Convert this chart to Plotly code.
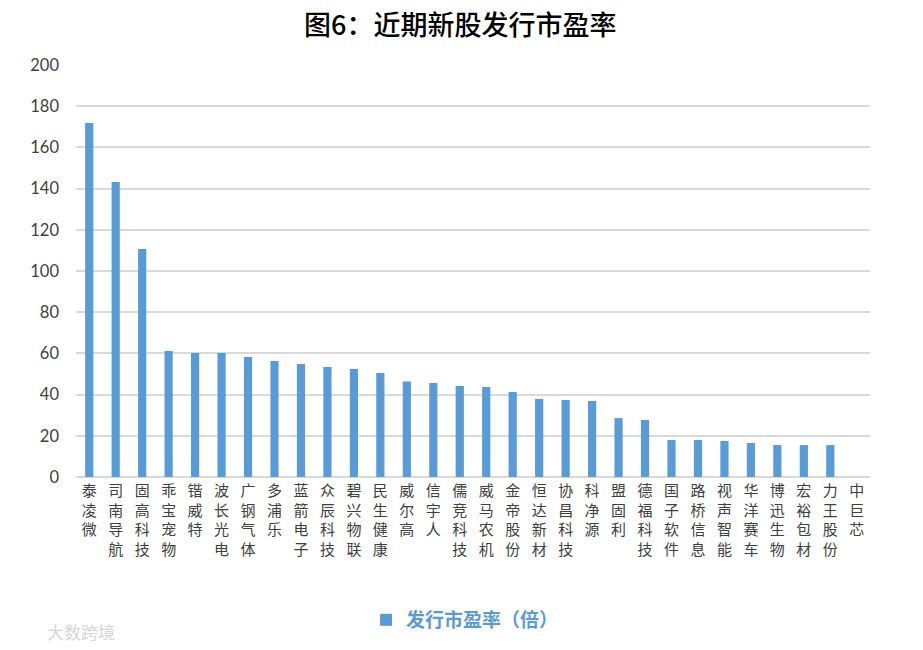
import plotly.graph_objects as go

categories = ["泰凌微", "司南导航", "固高科技", "乖宝宠物", "锴威特", "波长光电", "广钢气体", "多浦乐",
              "蓝箭电子", "众辰科技", "碧兴物联", "民生健康", "威尔高", "信宇人", "儒竞科技", "威马农机",
              "金帝股份", "恒达新材", "协昌科技", "科净源", "盟固利", "德福科技", "国子软件", "路桥信息",
              "视声智能", "华洋赛车", "博迅生物", "宏裕包材", "力王股份", "中巨芯"]
pe_values = [171.8, 143.2, 110.7, 61.2, 60.2, 60.2, 58.3, 56.3,
             54.9, 53.4, 52.4, 50.5, 46.3, 45.6, 44.2, 43.7,
             41.3, 37.9, 37.4, 36.9, 28.6, 27.7, 18.0, 18.0,
             17.5, 16.5, 15.5, 15.5, 15.5, 0]
y_ticks = [0, 20, 40, 60, 80, 100, 120, 140, 160, 180, 200]
series_name = "发行市盈率（倍）"
title_text = "图6：近期新股发行市盈率"

tick_text = ["<br>".join(list(c)) for c in categories]

fig = go.Figure()
fig.add_trace(go.Bar(
    x=categories, y=pe_values, name=series_name,
    marker=dict(color="#5B9BD5", line=dict(width=0)),
    showlegend=True,
))

fig.update_layout(
    width=923, height=650,
    paper_bgcolor="white", plot_bgcolor="white",
    margin=dict(l=68, r=61, t=57, b=181, autoexpand=False),
    bargap=0.69,
    title=dict(text=title_text, x=0.49, xanchor="center", y=1 - 18 / 650, yanchor="middle",
               font=dict(family="Noto Sans CJK SC", size=27, color="#000000", weight=500)),
    legend=dict(orientation="h", x=0.49, xanchor="center", y=-0.347, yanchor="middle",
                font=dict(family="Noto Sans CJK SC", size=19, color="#5B9BD5", weight=700),
                itemwidth=30),
    showlegend=True,
    font=dict(family="Noto Sans CJK SC"),
)
fig.update_xaxes(
    tickmode="array", tickvals=categories, ticktext=tick_text,
    tickfont=dict(family="Noto Sans CJK SC", size=15, color="#404040"),
    showline=True, linecolor="#D9D9D9", linewidth=1,
    ticks="", showgrid=False, tickangle=0, automargin=False,
)
fig.update_yaxes(
    range=[0, 200], tickvals=y_ticks,
    tickfont=dict(family="Lato", size=16.5, color="#404040"),
    showgrid=True, gridcolor="#D9D9D9", gridwidth=1.5,
    zeroline=True, zerolinecolor="#D9D9D9", zerolinewidth=1.5,
    ticks="", ticklabelstandoff=16, automargin=False,
)
fig.add_annotation(text="大数跨境", xref="paper", yref="paper", x=-0.039, y=-0.376,
                   xanchor="left", yanchor="middle", showarrow=False,
                   font=dict(family="Noto Sans CJK SC", size=17, color="#D5D5D5"))

fig.write_html("out.html")
